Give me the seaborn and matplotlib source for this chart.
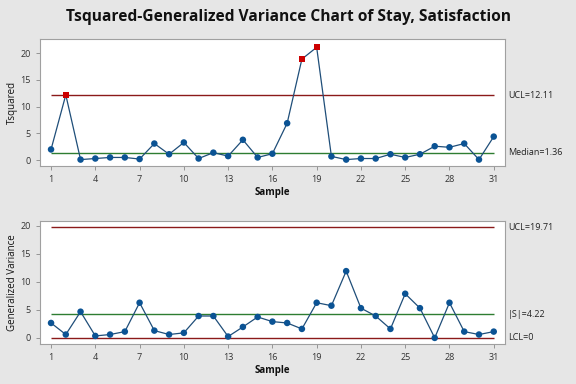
import numpy as np
import pandas as pd
import matplotlib
matplotlib.use("Agg")
import matplotlib.pyplot as plt
import seaborn as sns

# ----------------------
# Data
# ----------------------
samples = list(range(1, 32))

tsquared = [2.0, 12.2, 0.1, 0.3, 0.5, 0.5, 0.2, 3.1, 1.1, 3.3,
            0.3, 1.4, 0.75, 3.8, 0.5, 1.2, 6.9, 18.9, 21.1, 0.7,
            0.1, 0.3, 0.3, 1.1, 0.5, 1.1, 2.6, 2.4, 3.1, 0.1, 4.4]

gen_variance = [2.66, 0.6, 4.67, 0.35, 0.6, 1.12, 6.27, 1.3, 0.6, 0.9,
                3.9, 3.9, 0.24, 1.95, 3.73, 2.9, 2.66, 1.6, 6.27, 5.74,
                11.9, 5.3, 3.9, 1.6, 7.87, 5.3, 0.0, 6.27, 1.12, 0.6, 1.12]

t_ucl, t_median = 12.11, 1.36
v_ucl, v_center, v_lcl = 19.71, 4.22, 0.0
t_flagged = [2, 18, 19]

xtick_vals = list(range(1, 32, 3))
ytick_vals = [0, 5, 10, 15, 20]

# ----------------------
# Styling
# ----------------------
BLUE = "#0b5394"
LINE_BLUE = "#1f4e79"
RED_LIMIT = "#8b1a1a"
GREEN = "#2e7d32"
FLAG_RED = "#cc0000"
BG = "#e6e6e6"

sns.set_style("white")
plt.rcParams["font.family"] = ["Open Sans", "DejaVu Sans"]
plt.rcParams["axes.edgecolor"] = "#a0a0a0"

df_t = pd.DataFrame({"Sample": samples, "Tsquared": tsquared})
df_t["flag"] = df_t["Sample"].isin(t_flagged)
df_v = pd.DataFrame({"Sample": samples, "Generalized Variance": gen_variance})

fig = plt.figure(figsize=(5.76, 3.84), dpi=100, facecolor=BG)
fig.text(0.5, 0.955, "Tsquared-Generalized Variance Chart of Stay, Satisfaction",
         ha="center", va="center", fontsize=11.2, fontweight="bold", color="#111111")

ax1 = fig.add_axes([0.0694, 0.5677, 0.807, 0.33])
ax2 = fig.add_axes([0.0694, 0.104, 0.807, 0.32])


def style_axis(ax, ylabel, ylim):
    ax.set_facecolor("white")
    ax.set_xlim(0.25, 31.75)
    ax.set_ylim(*ylim)
    ax.set_xticks(xtick_vals)
    ax.set_yticks(ytick_vals)
    ax.tick_params(axis="both", labelsize=6.5, colors="#333333", length=3,
                   width=0.6, direction="out", bottom=True, left=True)
    ax.tick_params(axis="both", color="#888888")
    ax.set_xlabel("Sample", fontsize=7, fontweight="bold", color="#111111", labelpad=2)
    ax.set_ylabel(ylabel, fontsize=7, color="#111111", labelpad=2)
    for sp in ax.spines.values():
        sp.set_linewidth(0.8)
        sp.set_color("#a0a0a0")


# Top: Tsquared
ax1.hlines(t_ucl, 1, 31, color=RED_LIMIT, lw=1.0, zorder=1)
ax1.hlines(t_median, 1, 31, color=GREEN, lw=1.0, zorder=1)
sns.lineplot(data=df_t, x="Sample", y="Tsquared", ax=ax1, color=LINE_BLUE,
             lw=0.9, zorder=2)
sns.scatterplot(data=df_t[~df_t["flag"]], x="Sample", y="Tsquared", ax=ax1,
                color=BLUE, s=22, edgecolor="none", zorder=3)
sns.scatterplot(data=df_t[df_t["flag"]], x="Sample", y="Tsquared", ax=ax1,
                color=FLAG_RED, marker="s", s=20, edgecolor="none", zorder=4)
style_axis(ax1, "Tsquared", (-1.1, 22.6))
ax1.text(31.95, t_ucl, "UCL=12.11", fontsize=6.5, va="center", ha="left", color="#222222")
ax1.text(31.95, t_median, "Median=1.36", fontsize=6.5, va="center", ha="left", color="#222222")

# Bottom: Generalized Variance
ax2.hlines(v_ucl, 1, 31, color=RED_LIMIT, lw=1.0, zorder=1)
ax2.hlines(v_center, 1, 31, color=GREEN, lw=1.0, zorder=1)
ax2.hlines(v_lcl, 1, 31, color=RED_LIMIT, lw=1.0, zorder=1)
sns.lineplot(data=df_v, x="Sample", y="Generalized Variance", ax=ax2,
             color=LINE_BLUE, lw=0.9, zorder=2)
sns.scatterplot(data=df_v, x="Sample", y="Generalized Variance", ax=ax2,
                color=BLUE, s=22, edgecolor="none", zorder=3)
style_axis(ax2, "Generalized Variance", (-1.1, 20.8))
ax2.text(31.95, v_ucl, "UCL=19.71", fontsize=6.5, va="center", ha="left", color="#222222")
ax2.text(31.95, v_center, "|S|=4.22", fontsize=6.5, va="center", ha="left", color="#222222")
ax2.text(31.95, v_lcl, "LCL=0", fontsize=6.5, va="center", ha="left", color="#222222")

fig.savefig("out.png", dpi=100, facecolor=BG)
